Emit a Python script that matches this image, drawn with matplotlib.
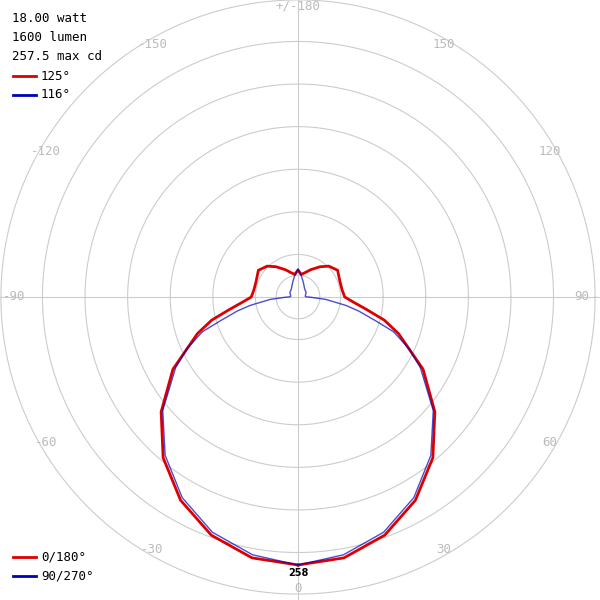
import numpy as np
import matplotlib
matplotlib.use("Agg")
import matplotlib.pyplot as plt

# angles from nadir (deg), candela
red_ang = [0, 10, 20, 30, 40, 50, 60, 70, 75, 80, 85, 90, 99, 110, 124, 135, 144, 155, 165, 172, 180]
red_cd = [258, 255, 244, 226, 202, 172, 139, 103, 86, 66, 53, 45, 43, 43, 46, 42, 36, 29, 24, 22, 26]
blue_ang = [0, 10, 20, 30, 40, 50, 60, 65, 70, 73, 77, 80, 85, 89, 91, 95, 120, 140, 160, 170, 180]
blue_cd = [258, 252, 241, 223, 199, 170, 136, 118, 98, 78, 60, 47, 27, 12, 8, 7, 9, 10, 15, 20, 27]
ring_cd = [21, 41, 82, 123, 164, 205, 246, 286]
angle_labels = [0, 30, 60, 90, 120, 150, 180, -150, -120, -90, -60, -30]
info = ["18.00 watt", "1600 lumen", "257.5 max cd"]
max_cd = 258

cx, cy = 298, 297
px_per_cd = 268 / 258.0

fig = plt.figure(figsize=(6, 6), dpi=100)
ax = fig.add_axes([0, 0, 1, 1])
ax.set_xlim(0, 600)
ax.set_ylim(600, 0)
ax.axis("off")

t = np.linspace(0, 2 * np.pi, 400)
for c in ring_cd:
    r = c * px_per_cd
    ax.plot(cx + r * np.cos(t), cy + r * np.sin(t), color="#cccccc", lw=0.8)
ax.axhline(cy, color="#cccccc", lw=0.8)
ax.axvline(cx, color="#cccccc", lw=0.8)

mono = "DejaVu Sans Mono"
for a in angle_labels:
    th = np.radians(a)
    r = 284 if abs(a) == 90 else 291
    lab = "+/-180" if a == 180 else str(a)
    ax.text(cx + r * np.sin(th), cy + r * np.cos(th), lab, color="#bbbbbb",
            fontsize=9, family=mono, ha="center", va="center")

def curve(ang, cd):
    ang = np.radians(np.concatenate([ang, -np.array(ang[::-1])]))
    cd = np.concatenate([cd, cd[::-1]]) * px_per_cd
    return cx + cd * np.sin(ang), cy + cd * np.cos(ang)

x, y = curve(red_ang, red_cd)
ax.plot(x, y, color="#dd0000", lw=2)
x, y = curve(blue_ang, blue_cd)
ax.plot(x, y, color="#0000bb", lw=1, alpha=0.7)

ax.text(cx, 573, str(max_cd), fontsize=7, fontweight="bold", ha="center", va="center")

for i, s in enumerate(info):
    ax.text(12, 18 + i * 19.5, s, fontsize=9, family=mono, va="center")
for yy, col, s in [(76, "#dd0000", "125°"), (95, "#0000bb", "116°"),
                   (557, "#dd0000", "0/180°"), (576, "#0000bb", "90/270°")]:
    ax.plot([13, 36], [yy, yy], color=col, lw=2)
    ax.text(41, yy, s, fontsize=9, family=mono, va="center")

fig.savefig("out.png", dpi=100)
